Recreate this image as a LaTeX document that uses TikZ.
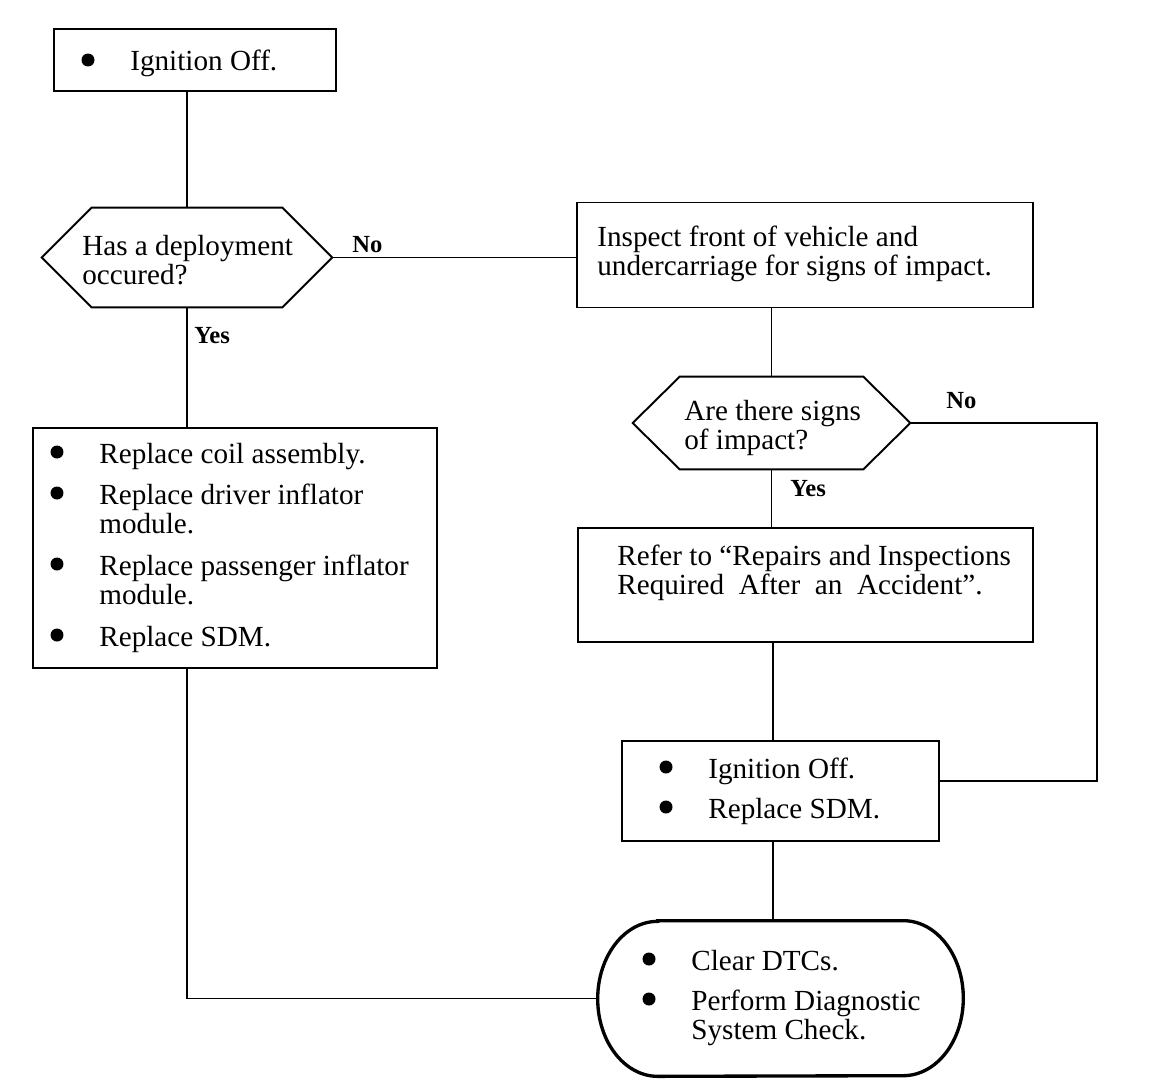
\documentclass[tikz,border=0pt]{standalone}
\usepackage{fontspec}
\setmainfont{Liberation Serif}
\usetikzlibrary{calc}

\newcommand{\bodyfont}{\fontsize{16.6pt}{16.8pt}\selectfont}
\newcommand{\lblfont}{\fontsize{14pt}{16pt}\selectfont\bfseries}
\newcommand{\lines}[1]{\begin{tabular}[t]{@{}l@{}}#1\end{tabular}}

\tikzset{
  box/.style={draw, line width=1.1pt, inner sep=0pt},
  ghost/.style={inner sep=0pt},
  txt/.style={anchor=base west, inner sep=0pt, font=\bodyfont},
  lbl/.style={anchor=base west, inner sep=0pt, font=\lblfont},
  link/.style={line width=1pt},
}

\begin{document}
\begin{tikzpicture}[x=0.02cm, y=-0.02cm]
  \useasboundingbox (0,0) rectangle (1152,1088);

  % boxes
  \node[box, minimum width=5.64cm, minimum height=1.24cm] (ign) at (195,60) {};
  \node[ghost, minimum width=5.8cm, minimum height=1.98cm] (hasdep) at (187,257.5) {};
  \node[box, minimum width=9.12cm, minimum height=2.1cm] (insp) at (805,255) {};
  \node[ghost, minimum width=5.54cm, minimum height=1.84cm] (signs) at (771.5,423) {};
  \node[box, minimum width=8.08cm, minimum height=4.8cm] (repl) at (235,548) {};
  \node[box, minimum width=9.1cm, minimum height=2.28cm] (refer) at (805.5,585) {};
  \node[box, minimum width=6.34cm, minimum height=2cm] (sdm) at (780.5,791) {};
  \node[ghost, minimum width=7.3cm, minimum height=3.1cm] (term) at (780.5,998.5) {};

  % hexagons
  \foreach \n/\t in {hasdep/50, signs/47}
    \draw[box] (\n.west) -- ($(\n.north west)+(\t,0)$) -- ($(\n.north east)+(-\t,0)$)
      -- (\n.east) -- ($(\n.south east)+(-\t,0)$) -- ($(\n.south west)+(\t,0)$) -- cycle;

  % terminal
  \draw[line width=1.9pt] ($(term.north west)+(60,0)$) -- ($(term.north east)+(-60,0)$)
    arc[start angle=-90, end angle=90, x radius=60, y radius=77.5]
    -- ($(term.south west)+(60,0)$)
    arc[start angle=90, end angle=270, x radius=60, y radius=77.5] -- cycle;

  % texts
  \node[txt] (ignt) at (130,71) {Ignition Off.};
  \node[txt] (hasdept) at (82,255) {\lines{Has a deployment\\occured?}};
  \node[txt] (inspt) at (597,246) {\lines{Inspect front of vehicle and\\undercarriage for signs of impact.}};
  \node[txt] (signst) at (684,420) {\lines{Are there signs\\of impact?}};
  \node[txt] (r1) at (99,463) {Replace coil assembly.};
  \node[txt] (r2) at (99,504) {\lines{Replace driver inflator\\module.}};
  \node[txt] (r3) at (99,575) {\lines{Replace passenger inflator\\module.}};
  \node[txt] (r4) at (99,646) {Replace SDM.};
  \node[txt] (refert) at (617,565) {\lines{Refer to “Repairs and Inspections\\Required\ \ After\ \ an\ \ Accident”.}};
  \node[txt] (s1) at (708,778) {Ignition Off.};
  \node[txt] (s2) at (708,818) {Replace SDM.};
  \node[txt] (t1) at (691,970) {Clear DTCs.};
  \node[txt] (t2) at (691,1010) {\lines{Perform Diagnostic\\System Check.}};

  % bullets
  \foreach \i in {ignt, r1, r2, r3, r4, s1, s2, t1, t2}
    \fill ($(\i.base west)+(-42,-11)$) circle[radius=0.13cm];

  % labels
  \node[lbl] (noA) at (352,252) {No};
  \node[lbl] (yesA) at (194,343) {Yes};
  \node[lbl] (noB) at (946,408) {No};
  \node[lbl] (yesB) at (790,496) {Yes};

  % connectors
  \coordinate (spine) at (773,0);
  \coordinate (back) at (1097,781);
  \draw[link] (hasdep.north |- ign.south) -- (hasdep.north);
  \draw[link] (hasdep.south) -- (hasdep.south |- repl.north);
  \draw[link] (hasdep.east) -- (hasdep.east -| insp.west);
  \draw[link] (signs.north |- insp.south) -- (signs.north);
  \draw[link] (signs.south) -- (signs.south |- refer.north);
  \draw[link] (signs.east) -| (back) -- (back -| sdm.east);
  \draw[link] (spine |- refer.south) -- (spine |- sdm.north);
  \draw[link] (spine |- sdm.south) -- (spine |- term.north);
  \draw[link] (hasdep.south |- repl.south) |- (term.west);
\end{tikzpicture}
\end{document}
